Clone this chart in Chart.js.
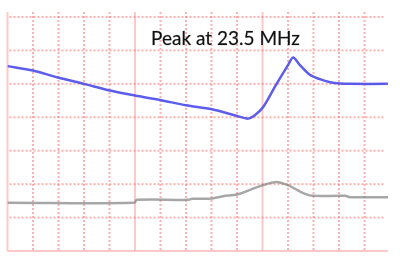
<!DOCTYPE html>
<html>
<head>
<meta charset="utf-8">
<script src="https://cdn.jsdelivr.net/npm/chart.js@4"></script>
<style>
  html, body { margin: 0; padding: 0; background: #ffffff; }
  #wrap { width: 400px; height: 258px; position: relative; }
</style>
</head>
<body>
<div id="wrap"><canvas id="c" width="400" height="258"></canvas></div>
<script>
// Horizontal position in screen divisions, vertical in divisions from bottom
const titleText = "Peak at 23.5 MHz";

const blueX = [0.00, 1.00, 1.98, 3.00, 4.02, 5.00, 5.98, 7.00, 8.02, 9.00, 9.43, 9.71, 10.02, 10.49, 11.00, 11.20, 11.47, 11.86, 12.25, 12.65, 13.04, 13.43, 14.92];
const blueY = [5.53, 5.40, 5.19, 5.00, 4.80, 4.65, 4.52, 4.36, 4.24, 4.04, 3.96, 4.07, 4.30, 4.92, 5.56, 5.79, 5.56, 5.27, 5.14, 5.05, 5.01, 5.00, 5.00];

const greyX = [0.00, 4.96, 5.08, 7.08, 7.24, 7.55, 8.02, 8.45, 9.00, 9.51, 10.02, 10.29, 10.61, 11.00, 11.35, 11.67, 11.98, 13.24, 13.43, 14.92];
const greyY = [1.44, 1.44, 1.53, 1.53, 1.56, 1.56, 1.57, 1.64, 1.69, 1.83, 1.97, 2.03, 2.06, 1.97, 1.83, 1.71, 1.65, 1.65, 1.61, 1.61];

const xDivisions = 15;
const yDivisions = 7;

function pts(xs, ys) { return xs.map((x, i) => ({ x: x, y: ys[i] })); }

const solidColor = 'rgba(255,165,165,0.6)';
const dotColor = 'rgba(245,115,115,0.55)';

const gridPlugin = {
  id: 'scopeGrid',
  beforeDatasetsDraw(chart) {
    const ctx = chart.ctx;
    const xs = chart.scales.x, ys = chart.scales.y;
    const a = chart.chartArea;
    ctx.save();
    ctx.lineCap = 'butt';
    for (let i = 0; i < xDivisions; i++) {
      const px = xs.getPixelForValue(i);
      ctx.beginPath();
      ctx.lineWidth = 2;
      if (i % 5 === 0) {
        ctx.setLineDash([]);
        ctx.strokeStyle = solidColor;
      } else {
        ctx.setLineDash([2, 2]);
        ctx.strokeStyle = dotColor;
      }
      ctx.moveTo(px, a.top - 5);
      ctx.lineTo(px, a.bottom);
      ctx.stroke();
    }
    for (let j = 0; j <= yDivisions; j++) {
      const py = ys.getPixelForValue(j);
      ctx.beginPath();
      ctx.lineWidth = 2;
      if (j === 0) {
        ctx.setLineDash([]);
        ctx.strokeStyle = solidColor;
        ctx.moveTo(a.left, py);
        ctx.lineTo(a.right - 2, py);
      } else {
        ctx.setLineDash([2, 2]);
        ctx.strokeStyle = dotColor;
        ctx.moveTo(a.left + 2, py);
        ctx.lineTo(a.right - 5, py);
      }
      ctx.stroke();
    }
    ctx.restore();
  },
  afterDatasetsDraw(chart) {
    const ctx = chart.ctx;
    const xs = chart.scales.x, ys = chart.scales.y;
    ctx.save();
    ctx.font = '19px Lato';
    ctx.fillStyle = '#111111';
    ctx.strokeStyle = 'rgba(17,17,17,0.35)';
    ctx.lineWidth = 0.6;
    ctx.textAlign = 'center';
    ctx.textBaseline = 'alphabetic';
    const tx = xs.getPixelForValue(8.55), ty = ys.getPixelForValue(6.15);
    ctx.fillText(titleText, tx, ty);
    ctx.strokeText(titleText, tx, ty);
    ctx.restore();
  }
};

new Chart(document.getElementById('c'), {
  type: 'line',
  data: {
    datasets: [
      {
        data: pts(blueX, blueY),
        borderColor: 'rgba(75,75,235,0.9)',
        borderWidth: 2.5,
        pointRadius: 0,
        tension: 0.3,
        fill: false
      },
      {
        data: pts(greyX, greyY),
        borderColor: 'rgba(130,130,130,0.7)',
        borderWidth: 2.5,
        pointRadius: 0,
        tension: 0.35,
        fill: false
      }
    ]
  },
  options: {
    responsive: false,
    animation: false,
    devicePixelRatio: 1,
    layout: { padding: { left: 7.5, right: 10, top: 17, bottom: 7 } },
    plugins: { legend: { display: false }, tooltip: { enabled: false }, title: { display: false } },
    scales: {
      x: { type: 'linear', min: 0, max: xDivisions, display: false },
      y: { type: 'linear', min: 0, max: yDivisions, display: false }
    }
  },
  plugins: [gridPlugin]
});
</script>
</body>
</html>
